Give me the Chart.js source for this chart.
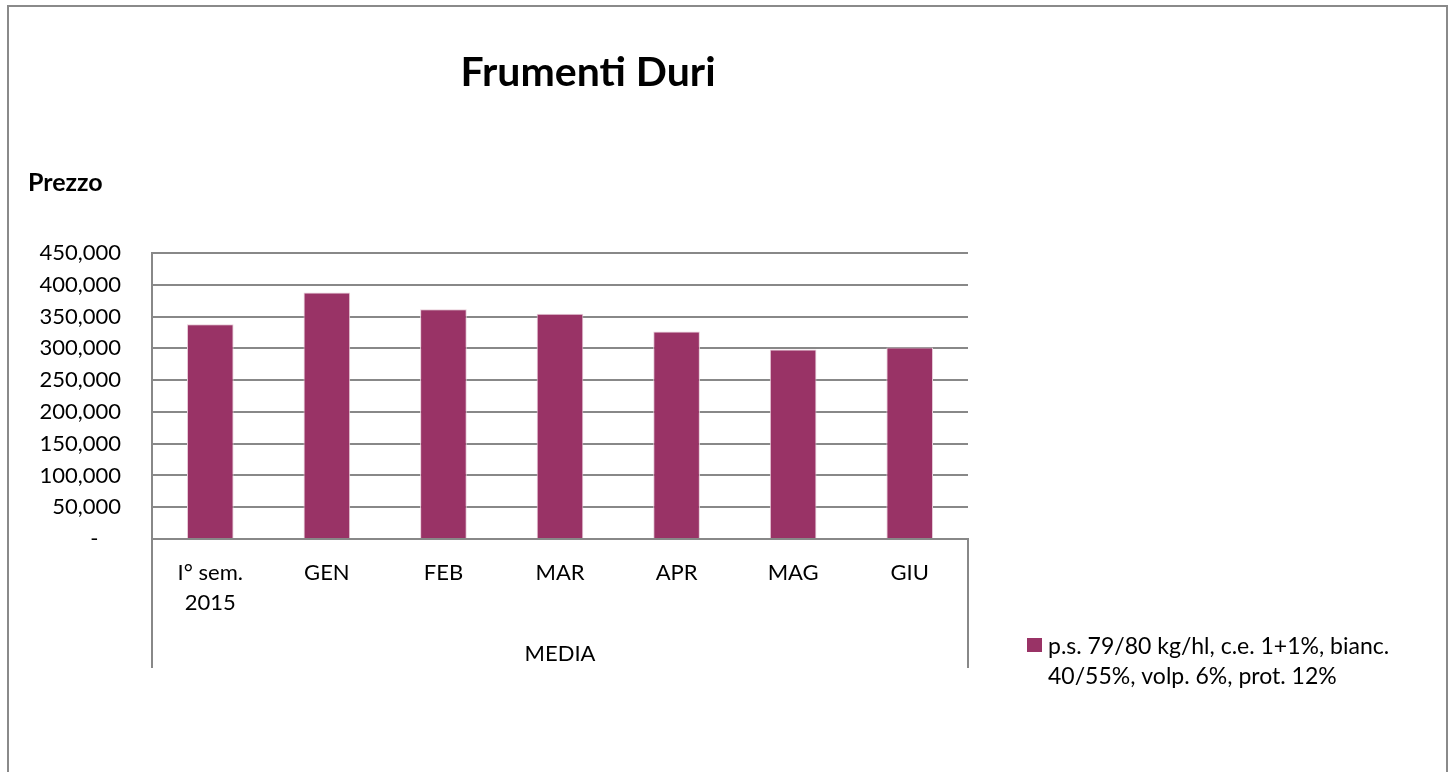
<!DOCTYPE html>
<html>
<head>
<meta charset="utf-8">
<title>Frumenti Duri</title>
<script src="https://cdn.jsdelivr.net/npm/chart.js@4"></script>
<style>
  body { margin: 0; background: #fff; }
  #wrap { position: relative; width: 1449px; height: 772px; }
</style>
</head>
<body>
<div id="wrap"><canvas id="bar_prezzi"></canvas></div>
<script>
// dati
const categories = [['I° sem.', '2015'], 'GEN', 'FEB', 'MAR', 'APR', 'MAG', 'GIU'];
const prezzi = [338000, 388000, 361500, 354500, 326500, 298000, 301500];
const seriesLabel = 'p.s. 79/80 kg/hl, c.e. 1+1%, bianc. 40/55%, volp. 6%, prot. 12%';
const legendLines = ['p.s. 79/80 kg/hl, c.e. 1+1%, bianc.', '40/55%, volp. 6%, prot. 12%'];
const groupLabel = 'MEDIA';
const yMax = 450000;
const yStep = 50000;

const FONT = 'Lato, "Noto Sans", sans-serif';
const barColor = '#993366';
const gridColor = '#888888';

// titolo, etichetta asse, gruppo MEDIA e legenda
const extras = {
    id: 'extras',
    afterDraw(chart) {
        const ctx = chart.ctx;
        const x = chart.scales.x;
        const area = chart.chartArea;
        ctx.save();

        // cornice esterna
        ctx.strokeStyle = '#8a8a8a';
        ctx.lineWidth = 2;
        ctx.strokeRect(8, 6, 1439, 800);

        // titolo
        ctx.fillStyle = '#000';
        ctx.font = 'bold 41px ' + FONT;
        ctx.textAlign = 'center';
        ctx.textBaseline = 'alphabetic';
        ctx.fillText('Frumenti Duri', 588, 86);

        // titolo asse y
        ctx.font = 'bold 25px ' + FONT;
        ctx.textAlign = 'left';
        ctx.fillText('Prezzo', 28, 191);

        // linee verticali del gruppo
        ctx.strokeStyle = gridColor;
        ctx.lineWidth = 2;
        ctx.beginPath();
        ctx.moveTo(x.left, area.bottom);
        ctx.lineTo(x.left, 668);
        ctx.moveTo(x.right, area.bottom);
        ctx.lineTo(x.right, 668);
        ctx.stroke();

        ctx.font = '22px ' + FONT;
        ctx.textAlign = 'center';
        ctx.fillText(groupLabel, (x.left + x.right) / 2, 661);

        // legenda
        ctx.fillStyle = chart.data.datasets[0].backgroundColor;
        ctx.fillRect(1027, 638, 15, 14);
        ctx.fillStyle = '#000';
        ctx.font = '23px ' + FONT;
        ctx.textAlign = 'left';
        ctx.fillText(legendLines[0], 1048, 654);
        ctx.fillText(legendLines[1], 1048, 684);
        ctx.restore();
    }
};

new Chart(
    document.getElementById('bar_prezzi'),
    {
        type: 'bar',
        data: {
            labels: categories,
            datasets: [{
                label: seriesLabel,
                data: prezzi,
                backgroundColor: barColor,
                borderColor: '#e8cdd9',
                borderWidth: 1,
                categoryPercentage: 1,
                barPercentage: 0.4
            }]
        },
        options: {
            responsive: true,
            maintainAspectRatio: false,
            animation: false,
            layout: {
                padding: { left: 0, top: 253, right: 481, bottom: 0 }
            },
            plugins: {
                legend: { display: false },
                title: { display: false },
                tooltip: { enabled: false }
            },
            scales: {
                x: {
                    grid: { display: false, drawTicks: false },
                    border: { display: true, color: gridColor, width: 2 },
                    ticks: {
                        color: '#000',
                        font: { family: FONT, size: 22, lineHeight: 1.36 },
                        padding: 19,
                        maxRotation: 0,
                        autoSkip: false
                    },
                    afterFit(scale) { scale.height = 772 - 539; }
                },
                y: {
                    min: 0,
                    max: yMax,
                    grid: { color: gridColor, lineWidth: 2, drawTicks: false },
                    border: { display: true, color: gridColor, width: 2 },
                    ticks: {
                        stepSize: yStep,
                        color: '#000',
                        padding: 31,
                        font: { family: FONT, size: 22 },
                        callback: v => v === 0 ? '-    ' : v.toLocaleString('en-US')
                    },
                    afterFit(scale) { scale.width = 152; }
                }
            }
        },
        plugins: [extras]
    }
);
</script>
</body>
</html>
